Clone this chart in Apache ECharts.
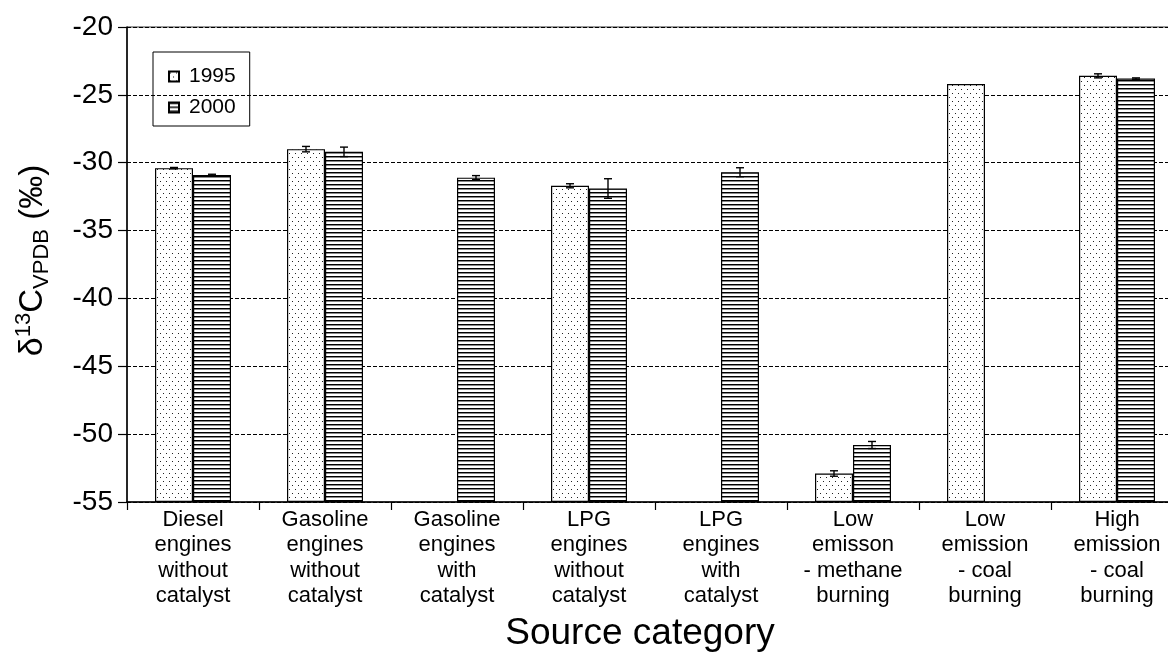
<!DOCTYPE html>
<html>
<head>
<meta charset="utf-8">
<script src="https://cdn.jsdelivr.net/npm/echarts@6/dist/echarts.min.js"></script>
<style>html,body{margin:0;padding:0;background:#fff}#c{width:1168px;height:653px}</style>
</head>
<body>
<div id="c"></div>
<script>
const categories = [
  'Diesel\nengines\nwithout\ncatalyst',
  'Gasoline\nengines\nwithout\ncatalyst',
  'Gasoline\nengines\nwith\ncatalyst',
  'LPG\nengines\nwithout\ncatalyst',
  'LPG\nengines\nwith\ncatalyst',
  'Low\nemisson\n- methane\nburning',
  'Low\nemission\n- coal\nburning',
  'High\nemission\n- coal\nburning'
];
const seriesNames = ['1995', '2000'];
const values1995 = [-30.4, -29.0, null, -31.7, null, -52.9, -24.2, -23.6];
const values2000 = [-30.9, -29.2, -31.1, -31.9, -30.7, -50.8, null, -23.8];
const err1995 = [0.05, 0.2, null, 0.15, null, 0.2, null, 0.15];
const err2000 = [0.05, 0.35, 0.15, 0.72, 0.33, 0.26, null, 0.05];
const yMin = -55, yMax = -20, yStep = 5;

const FONT = 'Liberation Sans, Arial, sans-serif';
const BAR_W = 38;

function makePattern(kind) {
  const c = document.createElement('canvas');
  const g = c.getContext('2d');
  if (kind === 'dots') {
    c.width = 6; c.height = 8;
    g.fillStyle = '#fff'; g.fillRect(0, 0, 6, 8);
    g.fillStyle = '#222';
    g.fillRect(1, 1, 1, 1);
    g.fillRect(4, 5, 1, 1);
  } else {
    c.width = 4; c.height = 4;
    g.fillStyle = '#fff'; g.fillRect(0, 0, 4, 4);
    g.fillStyle = '#000'; g.fillRect(0, 0, 4, 1);
    g.fillStyle = '#888'; g.fillRect(0, 1, 4, 1);
  }
  return c;
}
const dotPattern = { image: makePattern('dots'), repeat: 'repeat' };
const linePattern = { image: makePattern('lines'), repeat: 'repeat' };

function errSeries(name, vals, errs, offset) {
  const data = [];
  vals.forEach((v, i) => { if (v != null && errs[i] != null) data.push([i, v, errs[i]]); });
  return {
    type: 'custom', name: name, z: 5, silent: true, data: data,
    encode: { x: 0, y: 1 },
    renderItem(params, api) {
      const i = api.value(0), v = api.value(1), e = api.value(2);
      const top = api.coord([i, v + e]);
      const bot = api.coord([i, v - e]);
      const x = top[0] + offset;
      const cap = 4;
      const st = { stroke: '#000', lineWidth: 1.4 };
      return {
        type: 'group',
        children: [
          { type: 'line', shape: { x1: x, y1: top[1], x2: x, y2: bot[1] }, style: st },
          { type: 'line', shape: { x1: x - cap, y1: top[1], x2: x + cap, y2: top[1] }, style: st },
          { type: 'line', shape: { x1: x - cap, y1: bot[1], x2: x + cap, y2: bot[1] }, style: st }
        ]
      };
    }
  };
}

const chart = echarts.init(document.getElementById('c'), null, { renderer: 'canvas' });
chart.setOption({
  animation: false,
  backgroundColor: '#fff',
  textStyle: { fontFamily: FONT, color: '#000' },
  grid: {
    left: 127, width: 1056, top: 27, height: 475,
    outerBoundsMode: 'none', containLabel: false,
    show: true, borderColor: '#333', borderWidth: 1
  },
  legend: {
    data: seriesNames,
    orient: 'vertical',
    left: 153, top: 52,
    borderColor: '#000', borderWidth: 1,
    padding: [14, 14, 8, 15],
    itemGap: 10,
    icon: 'rect',
    itemWidth: 10, itemHeight: 10,
    textStyle: { fontSize: 21, fontFamily: FONT, color: '#000', padding: [0, 0, 0, 5] }
  },
  xAxis: {
    type: 'category',
    data: categories,
    axisLine: { lineStyle: { color: '#000', width: 1.5 } },
    axisTick: { show: true, length: 8, lineStyle: { color: '#000', width: 1.2 } },
    axisLabel: { interval: 0, fontSize: 22, lineHeight: 25.5, color: '#000', margin: 5, fontFamily: FONT },
    name: 'Source category',
    nameLocation: 'middle',
    nameGap: 113,
    nameTextStyle: { fontSize: 37, color: '#000', fontFamily: FONT, padding: [0, 30, 0, 0] }
  },
  yAxis: {
    type: 'value',
    min: yMin, max: yMax, interval: yStep,
    startValue: yMin,
    axisLine: { show: true, lineStyle: { color: '#000', width: 1.5 } },
    axisTick: { show: true, length: 9, lineStyle: { color: '#000', width: 1.2 } },
    axisLabel: { fontSize: 28, color: '#000', margin: 14, fontFamily: FONT },
    splitLine: { show: true, lineStyle: { color: '#000', width: 1, type: [4, 2] } },
    name: '{d|δ}{sup|13}{c|C}{sub|VPDB}{c| (‰)}',
    nameLocation: 'middle',
    nameRotate: 90,
    nameGap: 74,
    nameTextStyle: {
      fontFamily: FONT, color: '#000', padding: [0, 0, 0, 8],
      rich: {
        d: { fontSize: 34, fontFamily: FONT, lineHeight: 40, verticalAlign: 'middle' },
        c: { fontSize: 33, fontFamily: FONT, lineHeight: 40, verticalAlign: 'middle' },
        sup: { fontSize: 22, fontFamily: FONT, lineHeight: 22, verticalAlign: 'top' },
        sub: { fontSize: 22, fontFamily: FONT, lineHeight: 22, verticalAlign: 'bottom' }
      }
    }
  },
  series: [
    {
      name: '1995', type: 'bar', data: values1995,
      barWidth: BAR_W, barGap: '0%',
      itemStyle: { color: dotPattern, borderColor: '#000', borderWidth: 1.2 }
    },
    {
      name: '2000', type: 'bar', data: values2000,
      barWidth: BAR_W, barGap: '0%',
      itemStyle: { color: linePattern, borderColor: '#000', borderWidth: 1.2 }
    },
    errSeries('err1995', values1995, err1995, -BAR_W / 2),
    errSeries('err2000', values2000, err2000, BAR_W / 2)
  ]
});
</script>
</body>
</html>
